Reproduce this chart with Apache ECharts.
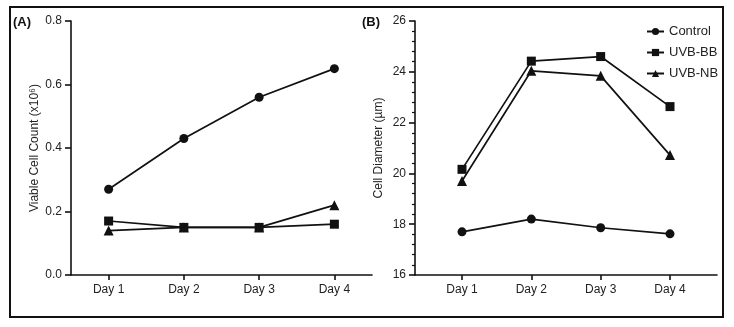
<!DOCTYPE html>
<html>
<head>
<meta charset="utf-8">
<script src="https://cdn.jsdelivr.net/npm/echarts@6/dist/echarts.min.js"></script>
<style>
  html, body { margin: 0; padding: 0; background: #fff; }
  #main { width: 734px; height: 327px; }
</style>
</head>
<body>
<div id="main"></div>
<script>
const days = ['Day 1', 'Day 2', 'Day 3', 'Day 4']
const seriesNames = ['Control', 'UVB-BB', 'UVB-NB']
const symbols = ['circle', 'rect', 'triangle']

// (A) viable cell count (x10^6)
const countControl = [0.27, 0.43, 0.56, 0.65]
const countBB = [0.17, 0.15, 0.15, 0.16]
const countNB = [0.14, 0.15, 0.15, 0.22]

// (B) cell diameter (um)
const diamControl = [17.7, 18.2, 17.86, 17.62]
const diamBB = [20.16, 24.42, 24.6, 22.63]
const diamNB = [19.7, 24.04, 23.84, 20.72]

const ink = '#111'
const font = 'Liberation Sans, Arial, sans-serif'
const dayTicks = days.map((d, i) => i + 1)

function pairs(vals) {
  return vals.map((v, i) => [i + 1, v])
}

function xAxisFor(gridIndex, min, max) {
  return {
    type: 'value',
    gridIndex,
    min,
    max,
    axisLine: { lineStyle: { color: ink, width: 1.6 } },
    axisTick: { customValues: dayTicks, length: 5, lineStyle: { color: ink, width: 1.6 } },
    axisLabel: {
      customValues: dayTicks,
      formatter: (v) => days[Math.round(v) - 1] || '',
      color: '#222', fontFamily: font, fontSize: 12, margin: 9,
    },
    splitLine: { show: false },
  }
}

function lineSeries(name, idx, data, gridIndex) {
  return {
    name,
    type: 'line',
    xAxisIndex: gridIndex,
    yAxisIndex: gridIndex,
    data: pairs(data),
    symbol: symbols[idx],
    symbolSize: idx === 2 ? 10 : 9,
    lineStyle: { color: ink, width: 1.7 },
    itemStyle: { color: ink },
    animation: false,
  }
}

const chart = echarts.init(document.getElementById('main'))
chart.setOption({
  backgroundColor: '#fff',
  animation: false,
  grid: [
    { left: 71, right: 362, top: 21, bottom: 52 },
    { left: 415, right: 17, top: 21, bottom: 52 },
  ],
  legend: {
    data: seriesNames,
    orient: 'vertical',
    left: 641,
    top: 20,
    itemWidth: 17,
    itemHeight: 9,
    itemGap: 8,
    textStyle: { color: '#222', fontFamily: font, fontSize: 13 },
  },
  xAxis: [xAxisFor(0, 0.5, 4.5), xAxisFor(1, 0.322, 4.678)],
  yAxis: [
    {
      type: 'value',
      gridIndex: 0,
      min: 0,
      max: 0.8,
      interval: 0.2,
      name: 'Viable Cell Count (x10⁶)',
      nameLocation: 'middle',
      nameGap: 30,
      nameTextStyle: { color: '#222', fontFamily: font, fontSize: 12 },
      axisLine: { show: true, lineStyle: { color: ink, width: 1.6 } },
      axisTick: { show: true, length: 6, lineStyle: { color: ink, width: 1.6 } },
      axisLabel: { formatter: (v) => v.toFixed(1), color: '#222', fontFamily: font, fontSize: 12, margin: 9 },
      splitLine: { show: false },
    },
    {
      type: 'value',
      gridIndex: 1,
      min: 16,
      max: 26,
      interval: 2,
      name: 'Cell Diameter (µm)',
      nameLocation: 'middle',
      nameGap: 30,
      nameTextStyle: { color: '#222', fontFamily: font, fontSize: 12 },
      axisLine: { show: true, lineStyle: { color: ink, width: 1.6 } },
      axisTick: { show: true, length: 6, lineStyle: { color: ink, width: 1.6 } },
      minorTick: { show: true, splitNumber: 5, length: 3, lineStyle: { color: ink, width: 1.2 } },
      axisLabel: { color: '#222', fontFamily: font, fontSize: 12, margin: 9 },
      splitLine: { show: false },
    },
  ],
  graphic: [
    {
      type: 'rect',
      shape: { x: 10, y: 7, width: 713, height: 310 },
      style: { fill: 'none', stroke: ink, lineWidth: 2 },
      silent: true,
    },
    {
      type: 'text', left: 13, top: 16,
      style: { text: '(A)', font: 'bold 13px ' + font, fill: ink },
    },
    {
      type: 'text', left: 362, top: 16,
      style: { text: '(B)', font: 'bold 13px ' + font, fill: ink },
    },
  ],
  series: [
    lineSeries('Control', 0, countControl, 0),
    lineSeries('UVB-BB', 1, countBB, 0),
    lineSeries('UVB-NB', 2, countNB, 0),
    lineSeries('Control', 0, diamControl, 1),
    lineSeries('UVB-BB', 1, diamBB, 1),
    lineSeries('UVB-NB', 2, diamNB, 1),
  ],
})
</script>
</body>
</html>
